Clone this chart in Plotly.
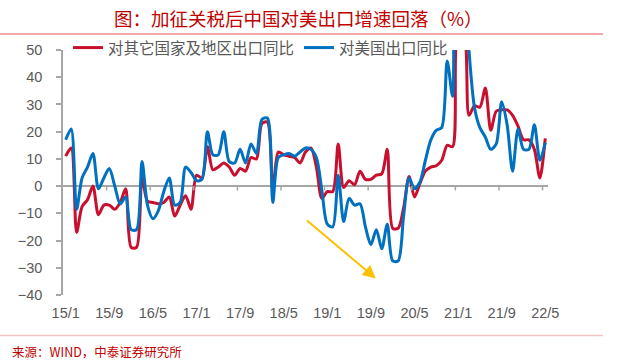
import plotly.graph_objects as go

# ---------------- data ----------------
start_year, start_month, n_months = 2015, 1, 89
months = []
for i in range(n_months):
    y = start_year + (start_month - 1 + i) // 12
    m = (start_month - 1 + i) % 12 + 1
    months.append(f"{y % 100}/{m}")

others_yoy = [
    11, 14, -17, -7.5, -5, 0, -10.5, -7, -7, -8.5, -6, -1,
    -22.5, -22.5, 3, -5.5, -6, -6.5, -6, -4, -11, -7, -3.5, -8.5,
    4, 3, 14.5, 6, 7, 8.5, 7, 4, 6.5, 5.5, 10.5, 10,
    23, 23.5, -2, 12.5, 11.5, 11, 10.5, 8.5, 12.5, 14, 7, -4.5,
    -2, -2, 15.5, -0.5, 2, 0.5, 5.5, 2.5, 2.5, 4, 4.5, 13.5,
    -15.5, -15.5, -8, 3.5, -4, 1, 5.5, 7, 7.5, 9.5, 15, 14.5,
    58, 58, 26, 29.5, 29, 36, 20.5, 27.5, 28, 28, 26, 22,
    17, 17, 13.5, 3, 17.5,
]
us_yoy = [
    17, 21, -8.5, 3, 7, 12, -1, 3, 6.5, 0, -6.5, -4,
    -16, -16, 9, -7, -12, -9, -2, 3, -7, -6, 7, 5,
    2, 2.5, 20, 11.5, 11.5, 20, 9, 8.5, 13.5, 8.5, 15.5, 12,
    24.5, 25, -6, 10.5, 11.5, 12, 11, 12.5, 14, 13.5, 10.5, -1.5,
    -14, -15, 4, -13, -4.5, -7, -6.5, -15, -21.5, -16, -23, -14,
    -27.5, -27.5, -11, 3, -1, 1.5, 9.5, 17, 20.5, 21.5, 46, 33,
    87, 87, 50, 29, 21.5, 18, 13.5, 15.5, 31, 22.5, 5.5, 21,
    13.5, 13.5, 22.5, 9.5, 16,
]
tick_labels = ["15/1", "15/9", "16/5", "17/1", "17/9", "18/5",
               "19/1", "19/9", "20/5", "21/1", "21/9", "22/5"]
y_ticks = [-40, -30, -20, -10, 0, 10, 20, 30, 40, 50]

series_names = ["对其它国家及地区出口同比", "对美国出口同比"]
title_text = "图：加征关税后中国对美出口增速回落（%）"
source_text = "来源：WIND，中泰证券研究所"

# arrow annotation (month index, value)
arrow_start = (44.0, -12.2)
arrow_end = (56.9, -33.9)

# ---------------- layout geometry ----------------
W, H = 635, 364
ML, MT = 63, 50
PW, PH = 485, 245
MR, MB = W - ML - PW, H - MT - PH


def px_x(px):
    return (px - ML) / PW


def px_y(py):
    return (H - MB - py) / PH


RED = "#C8102E"
BLUE = "#0070C0"
GRAY = "#595959"
AXIS = "#A6A6A6"

fig = go.Figure()
fig.add_trace(go.Scatter(x=months, y=others_yoy, name=series_names[0], mode="lines",
                         line=dict(color=RED, width=3, shape="spline", smoothing=0.8)))
fig.add_trace(go.Scatter(x=months, y=us_yoy, name=series_names[1], mode="lines",
                         line=dict(color=BLUE, width=3, shape="spline", smoothing=0.8)))

shapes = []
# tick marks on the zero line at category boundaries
for lab in tick_labels[1:]:
    idx = months.index(lab)
    shapes.append(dict(type="line", xref="x", yref="y", x0=idx - 0.5, x1=idx - 0.5,
                       y0=0, y1=-1.6, line=dict(color=AXIS, width=1.5)))
# decorative rules
shapes.append(dict(type="line", xref="paper", yref="paper", x0=px_x(0), x1=px_x(603),
                   y0=px_y(34), y1=px_y(34), line=dict(color="#EFA9A9", width=2)))
shapes.append(dict(type="line", xref="paper", yref="paper", x0=px_x(0), x1=px_x(603),
                   y0=px_y(335.5), y1=px_y(335.5), line=dict(color="#F2C4C4", width=1.5)))

annotations = [
    dict(text=title_text, xref="paper", yref="paper", x=px_x(298), y=px_y(18),
         xanchor="center", yanchor="middle", showarrow=False,
         font=dict(family="Noto Sans CJK SC", size=18.5, color="#C00000")),
    dict(text=source_text, xref="paper", yref="paper", x=px_x(10), y=px_y(351.5),
         xanchor="left", yanchor="middle", showarrow=False,
         font=dict(family="Noto Sans CJK SC", size=12.5, color="#C00000")),
    dict(x=arrow_end[0], y=arrow_end[1], ax=arrow_start[0], ay=arrow_start[1],
         xref="x", yref="y", axref="x", ayref="y", text="", showarrow=True,
         arrowhead=2, arrowsize=1.3, arrowwidth=2, arrowcolor="#FFC000"),
]

fig.update_layout(
    width=W, height=H,
    margin=dict(l=ML, r=MR, t=MT, b=MB),
    paper_bgcolor="white", plot_bgcolor="white",
    showlegend=True,
    legend=dict(orientation="h", x=px_x(68), y=px_y(48), xanchor="left", yanchor="middle",
                font=dict(family="Noto Sans CJK SC", size=15.5, color=GRAY),
                bgcolor="rgba(0,0,0,0)", itemwidth=30, tracegroupgap=0),
    shapes=shapes, annotations=annotations,
    xaxis=dict(type="category", range=[-0.5, n_months - 0.5], tickmode="array",
               tickvals=tick_labels, ticktext=tick_labels, showgrid=False,
               showline=False, ticks="", zeroline=False, ticklabelstandoff=7,
               tickfont=dict(family="Liberation Sans", size=14.5, color=GRAY)),
    yaxis=dict(range=[-40, 50], tickvals=y_ticks, showgrid=False, showline=True,
               linecolor=AXIS, linewidth=1.5, ticks="outside", ticklen=5,
               tickcolor=AXIS, tickwidth=1.5, zeroline=True, zerolinecolor=AXIS,
               zerolinewidth=1.5, ticklabelstandoff=11,
               tickfont=dict(family="Liberation Sans", size=14.5, color=GRAY)),
)

# remove the default 8px page margin so the figure fills the window exactly
fig.write_html("out.html", config={"displayModeBar": False},
               post_script="document.body.style.margin='0';")
